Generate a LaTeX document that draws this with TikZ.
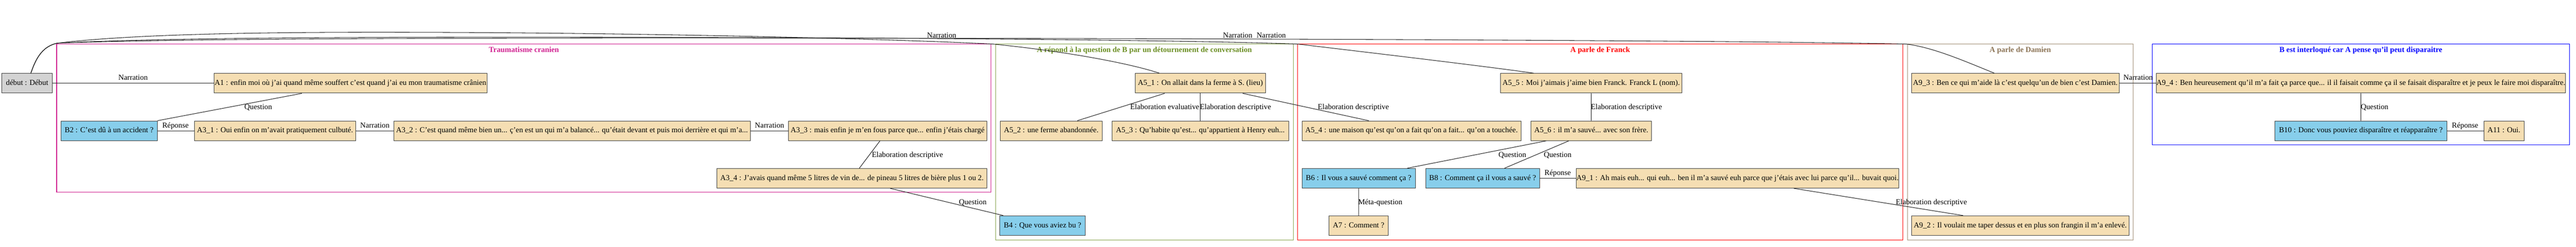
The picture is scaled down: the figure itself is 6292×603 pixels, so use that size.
\documentclass[tikz,border=0pt]{standalone}
\usepackage{fontspec}
\setmainfont{Liberation Serif}
\usepackage{tikz}
\usetikzlibrary{calc}

\definecolor{wheat}{RGB}{245,222,179}
\definecolor{skyblue}{RGB}{135,206,235}
\definecolor{debutgray}{RGB}{211,211,211}
\definecolor{violetred}{RGB}{208,32,144}
\definecolor{olivedrab}{RGB}{107,142,35}
\definecolor{burlywood4}{RGB}{139,115,85}

\tikzset{
  utt/.style={draw=black!75, line width=1pt, minimum height=36pt, inner sep=0pt,
    text height=10pt, text depth=3pt, font=\fontsize{14}{16}\selectfont,
    minimum width=#1*0.75pt},
  uttA/.style={utt=#1, fill=wheat},
  uttB/.style={utt=#1, fill=skyblue},
  rel/.style={font=\fontsize{14}{16}\selectfont, inner sep=0pt, anchor=base},
  zone/.style={line width=1pt},
  zonelabel/.style={font=\bfseries\fontsize{14}{16}\selectfont, inner sep=0pt, anchor=base},
  link/.style={line width=1pt, black!85},
}

\begin{document}
\begin{tikzpicture}[x=0.75pt, y=-0.75pt]
\useasboundingbox (0,0) rectangle (6292,603);

% zones
\draw[zone, violetred] (138.4,107.7) rectangle (2421,470);
\node[zonelabel, text=violetred] (ztrauma) at (1279.7,127.4) {Traumatisme cranien};
\draw[zone, olivedrab!80] (2431.6,107.7) rectangle (3158.7,586.5);
\node[zonelabel, text=olivedrab] (zdetour) at (2795.2,127.4) {A répond à la question de B par un détournement de conversation};
\draw[zone, red] (3168.9,107.7) rectangle (4648,586.5);
\node[zonelabel, text=red] (zfranck) at (3908.5,127.4) {A parle de Franck};
\draw[zone, burlywood4!80] (4658.7,107.7) rectangle (5210.7,586.5);
\node[zonelabel, text=burlywood4] (zdamien) at (4934.7,127.4) {A parle de Damien};
\draw[zone, blue] (5257,107.7) rectangle (6276,354.6);
\node[zonelabel, text=blue] (zdisp) at (5766.5,127.4) {B est interloqué car A pense qu'il peut disparaitre};

% row 1
\node[utt=123.5, fill=debutgray] (debut) at (66.3,203.7) {début : Début};
\node[uttA=667.4] (a1) at (856,203.7) {A1 : enfin moi où j'ai quand même souffert c'est quand j'ai eu mon traumatisme crânien};
\node[uttA=319] (a51) at (2931.9,203.7) {A5\_1 : On allait dans la ferme à S. (lieu)};
\node[uttA=443.4] (a55) at (3886.5,203.7) {A5\_5 : Moi j'aimais j’aime bien Franck. Franck L (nom).};
\node[uttA=507] (a93) at (4922.5,203.7) {A9\_3 : Ben ce qui m'aide là c'est quelqu'un de bien c'est Damien.};
\node[uttA=996.3] (a94) at (5766.5,203.7) {A9\_4 : Ben heureusement qu'il m'a fait ça parce que... il il faisait comme ça il se faisait disparaître et je peux le faire moi disparaître.};

% row 2
\node[uttB=235] (b2) at (266.5,319.8) {B2 : C'est dû à un accident ?};
\node[uttA=394.5] (a31) at (671.8,319.8) {A3\_1 : Oui enfin on m’avait pratiquement culbuté.};
\node[uttA=870.8] (a32) at (1397,319.8) {A3\_2 : C’est quand même bien un...  ç'en est un qui m'a balancé... qu'était devant et puis moi derrière et qui m’a...};
\node[uttA=484.7] (a33) at (2167.9,319.8) {A3\_3 : mais enfin je m’en fous parce que... enfin j'étais chargé};
\node[uttA=249.4] (a52) at (2567.6,319.8) {A5\_2 : une ferme abandonnée.};
\node[uttA=431] (a53) at (2931.9,319.8) {A5\_3 : Qu’habite qu’est... qu’appartient à Henry euh...};
\node[uttA=534.2] (a54) at (3447.7,319.8) {A5\_4 : une maison qu’est qu'on a fait qu'on a fait... qu’on a touchée.};
\node[uttA=294] (a56) at (3886.8,319.8) {A5\_6 : il m'a sauvé... avec son frère.};
\node[uttB=420] (b10) at (5766.4,319.8) {B10 : Donc vous pouviez disparaître et réapparaître ?};
\node[uttA=98.5] (a11) at (6116,319.8) {A11 : Oui.};

% row 3
\node[uttA=659.3] (a34) at (2081,436) {A3\_4 : J'avais quand même 5 litres de vin de... de  pineau 5 litres de bière plus 1 ou 2.};
\node[uttB=277] (b6) at (3318.5,436) {B6 : Il vous a sauvé comment ça ?};
\node[uttB=278.7] (b8) at (3621.4,436) {B8 : Comment ça il vous a sauvé ?};
\node[uttA=786.7] (a91) at (4243.9,436) {A9\_1 : Ah mais euh... qui euh... ben il m'a sauvé euh parce que j'étais avec lui parce qu'il... buvait quoi.};

% row 4
\node[uttB=208] (b4) at (2546.4,551.7) {B4 : Que vous aviez bu ?};
\node[uttA=144] (a7) at (3318.4,551.7) {A7 : Comment ?};
\node[uttA=531] (a92) at (4934.5,551.7) {A9\_2 : Il voulait me taper dessus et en plus son frangin il m'a enlevé.};

% links from debut over the top
\draw[link] ($(debut.north west)+(71.5,0)$) .. controls (89,138) and (106,113) .. (140,105.5)
  .. controls (320,84) and (620,78) .. (1000,79) .. controls (1550,80) and (2150,94) .. (2424.5,107.7)
  .. controls (2600,125) and (2760,155) .. ($(a51.north west)+(60.2,0)$);
\draw[link] ($(debut.north west)+(71.5,0)$) .. controls (89,138) and (106,113) .. (140,105.5)
  .. controls (400,92) and (900,90) .. (1500,91) .. controls (2200,92) and (2900,98) .. (3169,107.7)
  .. controls (3400,135) and (3650,165) .. ($(a55.north west)+(82.2,0)$);
\draw[link] ($(debut.north west)+(71.5,0)$) .. controls (89,138) and (106,113) .. (140,105.5)
  .. controls (420,95) and (1000,93) .. (1700,93) .. controls (2800,93.5) and (4200,98) .. (4655,107.7)
  .. controls (4720,115) and (4800,150) .. ($(a93.north west)+(203.1,0)$);
\node[rel] (lnar1) at (2300,92.9) {Narration};
\node[rel] (lnar2) at (3023,92.9) {Narration};
\node[rel] (lnar3) at (3105,92.9) {Narration};

% links
\draw[link] (debut) -- (a1);
\node[rel] (lnar0) at (325,195.4) {Narration};
\draw[link] ($(a1.south west)+(215.7,0)$) -- (b2.north east);
\node[rel] (lq1) at (630.8,268) {Question};
\draw[link] (b2) -- (a31);
\node[rel] (lrep1) at (428.6,312.2) {Réponse};
\draw[link] (a31) -- (a32);
\node[rel] (lnar4) at (915.6,312.2) {Narration};
\draw[link] (a32) -- (a33);
\node[rel] (lnar5) at (1879.6,312.2) {Narration};
\draw[link] ($(a33.south west)+(224.5,0)$) -- ($(a34.north west)+(348.3,0)$);
\node[rel] (lel1) at (2216.5,384.1) {Elaboration descriptive};
\draw[link] ($(a34.south west)+(423.6,0)$) -- ($(b4.north west)+(8.7,0)$);
\node[rel] (lq2) at (2376,500) {Question};

\draw[link] ($(a51.south west)+(73,0)$) -- ($(a52.north west)+(189.1,0)$);
\node[rel] (lev1) at (2845,268) {Elaboration evaluative};
\draw[link] (a51) -- (a53);
\node[rel] (lel2) at (3017.7,268) {Elaboration descriptive};
\draw[link] ($(a51.south west)+(263.6,0)$) -- ($(a54.north west)+(163.3,0)$);
\node[rel] (lel3) at (3305.6,268) {Elaboration descriptive};

\draw[link] (a55) -- (a56);
\node[rel] (lel4) at (3972.5,268) {Elaboration descriptive};
\draw[link] ($(a56.south west)+(37.7,0)$) -- ($(b6.north west)+(258,0)$);
\node[rel] (lq3) at (3694,384.1) {Question};
\draw[link] ($(a56.south west)+(92.8,0)$) -- ($(b8.north west)+(193.5,0)$);
\node[rel] (lq4) at (3804.6,384.1) {Question};
\draw[link] (b8) -- (a91);
\node[rel] (lrep2) at (3804.6,428.4) {Réponse};
\draw[link] (b6) -- (a7);
\node[rel] (lmeta) at (3371.4,500) {Méta-question};
\draw[link] ($(a91.south west)+(531.5,0)$) -- ($(a92.north west)+(126.5,0)$);
\node[rel] (lel5) at (4717.5,500) {Elaboration descriptive};

\draw[link] (a93) -- (a94);
\node[rel] (lnar6) at (5222.5,195.4) {Narration};
\draw[link] (a94) -- (b10);
\node[rel] (lq5) at (5800,268) {Question};
\draw[link] (b10) -- (a11);
\node[rel] (lrep3) at (6021,312.2) {Réponse};

\end{tikzpicture}
\end{document}
